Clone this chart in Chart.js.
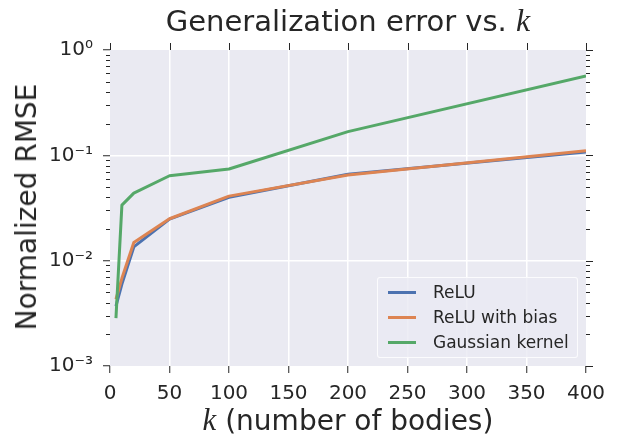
<!DOCTYPE html>
<html><head><meta charset="utf-8">
<script src="https://cdn.jsdelivr.net/npm/chart.js@4.4.0/dist/chart.umd.min.js"></script>
<style>
html,body{margin:0;padding:0;background:#fff;}
#wrap{position:relative;width:619px;height:437px;overflow:hidden;}
canvas{position:absolute;left:0;top:0;}
.txt{position:absolute;font-family:"DejaVu Sans",sans-serif;color:#262626;white-space:nowrap;line-height:1;}
.mk{font-family:"Liberation Serif",serif;font-style:italic;font-size:1.1em;}
#title{left:348px;top:5px;font-size:29px;transform:translateX(-50%);}
#xlab{left:348px;top:405px;font-size:28px;transform:translateX(-50%);}
#ylab{left:27px;top:207px;font-size:28px;transform:translate(-50%,-50%) rotate(-90deg);}
#legend{position:absolute;left:377px;top:277px;width:201px;height:81px;box-sizing:border-box;
  border:1px solid rgba(255,255,255,0.8);border-radius:3px;background:rgba(234,234,242,0.8);}
.lrow{position:absolute;left:0;height:0;}
.lline{position:absolute;left:10px;width:28px;height:3px;top:-1.5px;}
.ltext{position:absolute;left:55px;top:-9px;font-family:"DejaVu Sans",sans-serif;font-size:17px;line-height:18px;color:#262626;white-space:nowrap;}
</style></head>
<body>
<div id="wrap">
<canvas id="c" width="619" height="437"></canvas>
<div id="title" class="txt">Generalization error vs. <span class="mk">k</span></div>
<div id="xlab" class="txt"><span class="mk">k</span> (number of bodies)</div>
<div id="ylab" class="txt">Normalized RMSE</div>
<div id="legend"></div>
</div>
<script>
// ---- data ----
const kValues = [5, 10, 20, 50, 100, 200, 400];
const reluRMSE = [0.0037, 0.0060, 0.0135, 0.0248, 0.0400, 0.0660, 0.1075];
const reluBiasRMSE = [0.0043, 0.0068, 0.0149, 0.0250, 0.0410, 0.0650, 0.1106];
const gaussianRMSE = [0.00285, 0.0337, 0.0438, 0.0640, 0.0742, 0.168, 0.566];
const seriesLabels = ['ReLU', 'ReLU with bias', 'Gaussian kernel'];
const seriesColors = ['#4C72B0', '#DD8452', '#55A868'];
const xTickValues = [0, 50, 100, 150, 200, 250, 300, 350, 400];
const yTickValues = [0.001, 0.01, 0.1, 1];
const yTickLabels = ['10\u207B\u00B3', '10\u207B\u00B2', '10\u207B\u00B9', '10\u2070'];

const MAJOR = 7, MINOR = 4, INK = '#262626';

const seriesValues = [reluRMSE, reluBiasRMSE, gaussianRMSE];
const datasets = seriesValues.map((vals, i) => ({
  label: seriesLabels[i],
  data: kValues.map((k, j) => ({x: k, y: vals[j]})),
  borderColor: seriesColors[i],
  backgroundColor: seriesColors[i],
  borderWidth: 3,
  pointRadius: 0,
  tension: 0,
  fill: false,
  borderJoinStyle: 'round',
  order: 3 - i
}));

const decor = {
  id: 'decor',
  beforeDraw(chart) {
    const {ctx, chartArea: a} = chart;
    ctx.save();
    ctx.fillStyle = '#EAEAF2';
    ctx.fillRect(a.left, a.top, a.right - a.left, a.bottom - a.top);
    ctx.restore();
  },
  afterDraw(chart) {
    const {ctx, chartArea: a, scales: {x, y}} = chart;
    ctx.save();
    ctx.strokeStyle = INK;
    ctx.lineWidth = 1;
    const line = (x1, y1, x2, y2) => { ctx.beginPath(); ctx.moveTo(x1, y1); ctx.lineTo(x2, y2); ctx.stroke(); };
    for (let d = 0; d < yTickValues.length - 1; d++) {
      for (let m = 2; m <= 9; m++) {
        const py = Math.round(y.getPixelForValue(m * yTickValues[d])) + 0.5;
        line(a.left - MINOR, py, a.left, py);
        line(a.right, py, a.right + MINOR, py);
      }
    }
    yTickValues.forEach(v => {
      const py = Math.round(y.getPixelForValue(v)) + 0.5;
      line(a.right, py, a.right + MAJOR, py);
    });
    xTickValues.forEach(v => {
      const px = Math.round(x.getPixelForValue(v)) + 0.5;
      line(px, a.top - MAJOR, px, a.top);
    });
    ctx.restore();
  }
};

const edgeColor = (vals) => (c) => {
  const v = c.tick ? c.tick.value : null;
  return (v === vals[0] || v === vals[vals.length - 1]) ? 'rgba(0,0,0,0)' : '#ffffff';
};

new Chart(document.getElementById('c'), {
  type: 'line',
  data: {datasets},
  options: {
    responsive: false,
    animation: false,
    devicePixelRatio: 1,
    layout: {padding: {top: 50, right: 33, left: 0, bottom: 0}},
    plugins: {legend: {display: false}, tooltip: {enabled: false}, title: {display: false}},
    scales: {
      x: {
        type: 'linear', min: 0, max: 400,
        afterBuildTicks: s => { s.ticks = xTickValues.map(v => ({value: v})); },
        afterFit: s => { s.height = 71; },
        ticks: {font: {family: 'DejaVu Sans', size: 20}, color: INK, padding: 9, maxRotation: 0, autoSkip: false},
        grid: {color: edgeColor(xTickValues), lineWidth: 1.5, tickColor: INK, tickLength: MAJOR, tickWidth: 1},
        border: {display: false}
      },
      y: {
        type: 'logarithmic', min: 0.001, max: 1,
        afterBuildTicks: s => { s.ticks = yTickValues.map(v => ({value: v, major: true})); },
        afterFit: s => { s.width = 110; },
        ticks: {
          font: {family: 'DejaVu Sans', size: 20}, color: INK, padding: 10, autoSkip: false,
          callback: (v) => { const i = yTickValues.findIndex(t => Math.abs(t - v) / t < 1e-6); return i >= 0 ? yTickLabels[i] : ''; }
        },
        grid: {color: edgeColor(yTickValues), lineWidth: 1.5, tickColor: INK, tickLength: MAJOR, tickWidth: 1},
        border: {display: false}
      }
    }
  },
  plugins: [decor]
});

// legend built from series arrays
const lg = document.getElementById('legend');
const rowY = [14, 39, 64];
seriesLabels.forEach((lab, i) => {
  const r = document.createElement('div');
  r.className = 'lrow';
  r.style.top = rowY[i] + 'px';
  r.innerHTML = '<div class="lline" style="background:' + seriesColors[i] + '"></div><div class="ltext">' + lab + '</div>';
  lg.appendChild(r);
});
</script>
</body></html>
